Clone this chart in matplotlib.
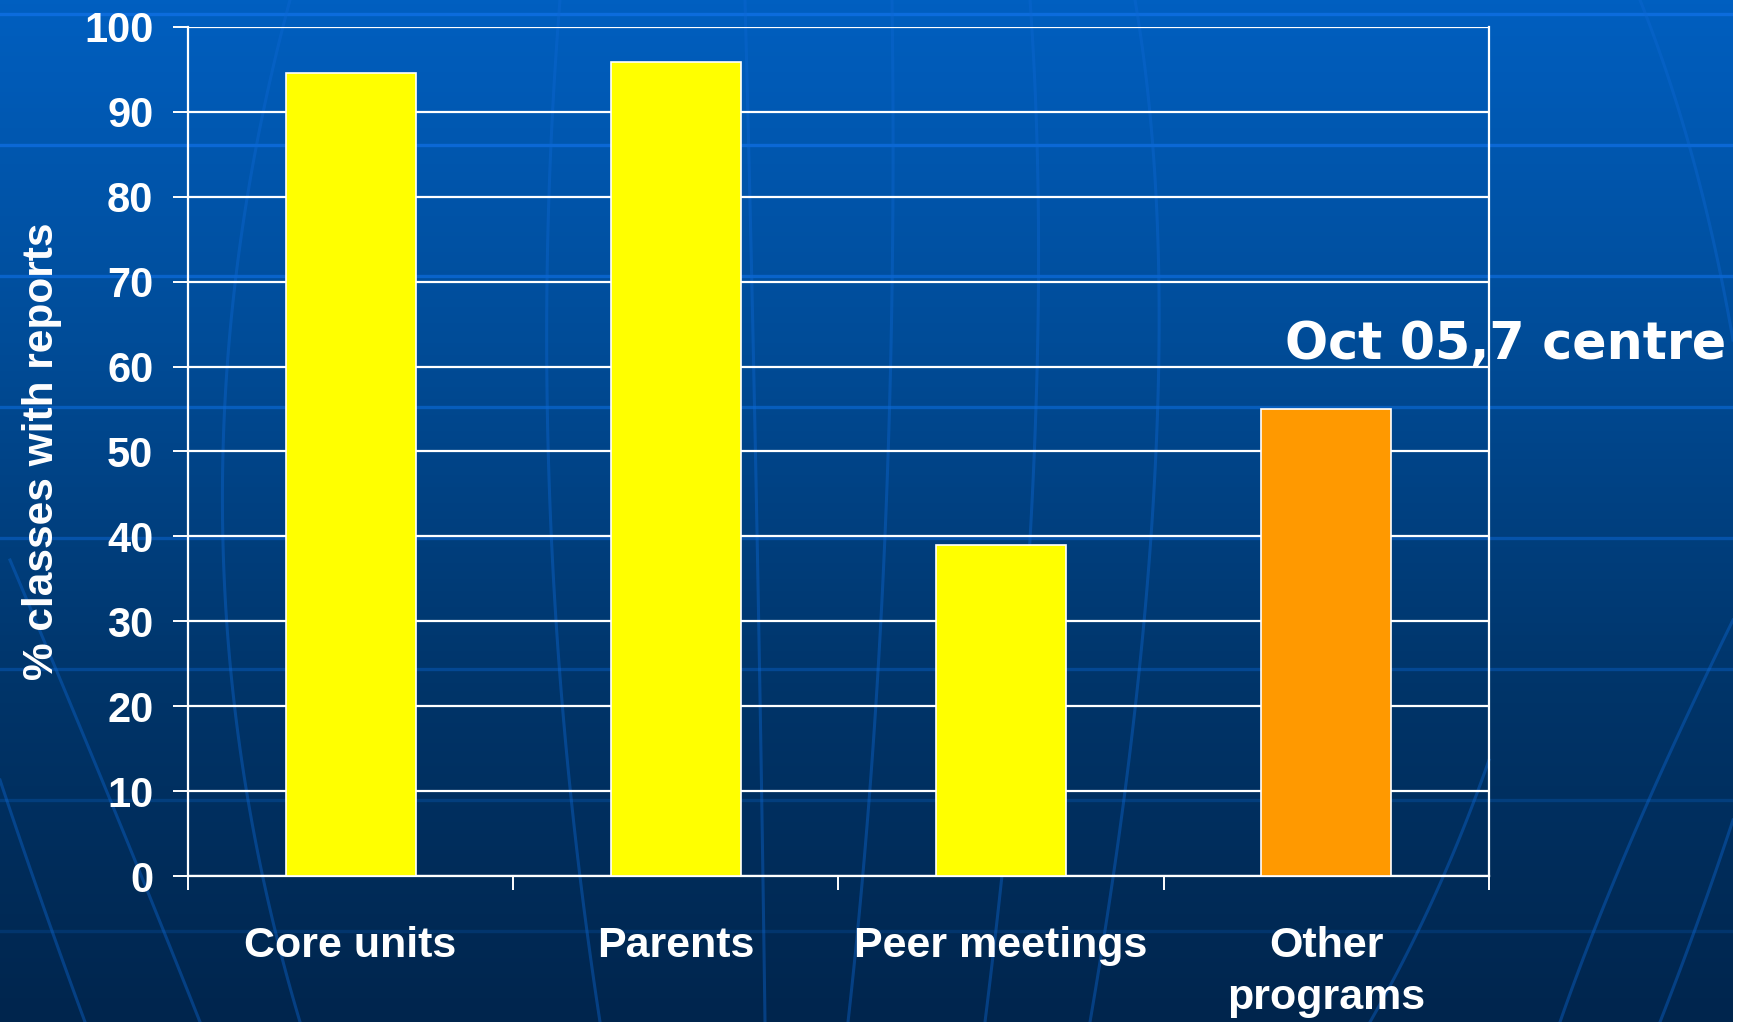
import numpy as np
import matplotlib
matplotlib.use("Agg")
import matplotlib.pyplot as plt
from matplotlib.patches import Rectangle
from matplotlib.colors import LinearSegmentedColormap

# ---- data ----
categories = ["Core units", "Parents", "Peer meetings", "Other\nprograms"]
values = [94.6, 95.9, 39.0, 55.0]
bar_colors = ["#FFFF00", "#FFFF00", "#FFFF00", "#FF9900"]
yticks = [0, 10, 20, 30, 40, 50, 60, 70, 80, 90, 100]
ylabel = "% classes with reports"
note = "Oct 05,7 centre"

W, H = 1758, 1022
fig = plt.figure(figsize=(W / 100, H / 100), dpi=100)
fig.patch.set_facecolor("white")

# ---- background (slide gradient with globe-like lines) ----
BW = 1733
bw = BW / W
bg = fig.add_axes([0, 0, bw, 1], zorder=0)
bg.set_xlim(0, BW)
bg.set_ylim(H, 0)
bg.axis("off")
cmap = LinearSegmentedColormap.from_list(
    "slide", ["#005FC0", "#004C98", "#00356A", "#00254D"])
grad = np.linspace(0, 1, 256).reshape(-1, 1)
bg.imshow(grad, cmap=cmap, aspect="auto", extent=[0, BW, H, 0], zorder=0)

# horizontal latitude lines
for k in range(8):
    y = 14 + 131 * k
    a = max(0.18, 0.9 - 0.11 * k)
    bg.plot([0, BW], [y, y], color="#0E6EE0", lw=2.4, alpha=a, zorder=1)

# curved meridian lines: (x0, y0), (x1, y1), (x2, y2) control points
def quad(p0, p1, p2, n=120):
    s = np.linspace(0, 1, n)[:, None]
    p0, p1, p2 = map(np.asarray, (p0, p1, p2))
    pts = (1 - s) ** 2 * p0 + 2 * s * (1 - s) * p1 + s ** 2 * p2
    return pts[:, 0], pts[:, 1]

meridians = [
    ((745, 0), (758, 500), (765, 1022)),
    ((892, 0), (900, 560), (848, 1022)),
    ((1030, 0), (1060, 420), (985, 1022)),
    ((1135, 0), (1200, 380), (1090, 1022)),
    ((290, 0), (150, 520), (300, 1022)),
    ((10, 560), (120, 820), (200, 1022)),
    ((0, 780), (40, 900), (85, 1022)),
    ((560, 0), (520, 500), (600, 1022)),
    ((1489, 760), (1440, 900), (1370, 1022)),
    ((1733, 620), (1620, 850), (1560, 1022)),
    ((1640, 0), (1700, 150), (1733, 340)),
    ((1733, 820), (1700, 920), (1660, 1022)),
]
for p0, p1, p2 in meridians:
    xs, ys = quad(p0, p1, p2)
    bg.plot(xs, ys, color="#0D68D4", lw=2.2, alpha=0.4, zorder=1)

# ---- chart axes ----
ax = fig.add_axes([188 / W, 1 - 876 / H, (1489 - 188) / W, (876 - 27) / H], zorder=2)
ax.patch.set_alpha(0)
x = np.arange(len(categories))
ax.bar(x, values, width=0.4, color=bar_colors, edgecolor="white",
       linewidth=1.2, zorder=3)

ax.set_xlim(-0.5, len(categories) - 0.5)
ax.set_ylim(0, 100)
ax.set_yticks(yticks)
ax.grid(axis="y", color="white", lw=1.6, zorder=1)
ax.set_axisbelow(True)

for side in ["left", "right", "bottom"]:
    ax.spines[side].set_color("white")
    ax.spines[side].set_linewidth(1.6)
ax.spines["top"].set_visible(False)

# category boundary ticks
ax.set_xticks(np.arange(-0.5, len(categories), 1.0))
ax.set_xticklabels([])
ax.tick_params(axis="x", which="major", direction="out", length=10,
               width=1.4, color="white")
ax.set_xticks(x, minor=True)
ax.set_xticklabels(categories, minor=True)
ax.tick_params(axis="x", which="minor", length=0, pad=36, colors="white",
               labelsize=31)
for lbl in ax.get_xticklabels(minor=True):
    lbl.set_fontfamily("Liberation Sans")
    lbl.set_fontweight("bold")
    lbl.set_linespacing(1.4)

ax.tick_params(axis="y", direction="out", length=11, width=1.4,
               color="white", labelcolor="white", labelsize=30, pad=14)
for lbl in ax.get_yticklabels():
    lbl.set_fontfamily("Liberation Sans")
    lbl.set_fontweight("bold")

ax.set_ylabel(ylabel, color="white", fontsize=30.5, fontweight="bold",
              family="Liberation Sans", labelpad=16)

# note text
fig.text(1285 / W, 1 - 359 / H, note, color="white", fontsize=36.5,
         fontweight="bold", family="DejaVu Sans", va="baseline", ha="left",
         zorder=5)

# white strip at the right edge
fig.patches.append(Rectangle((bw, 0), 1 - bw, 1, transform=fig.transFigure,
                             facecolor="white", edgecolor="none", zorder=10))

fig.savefig("out.png", dpi=100)
